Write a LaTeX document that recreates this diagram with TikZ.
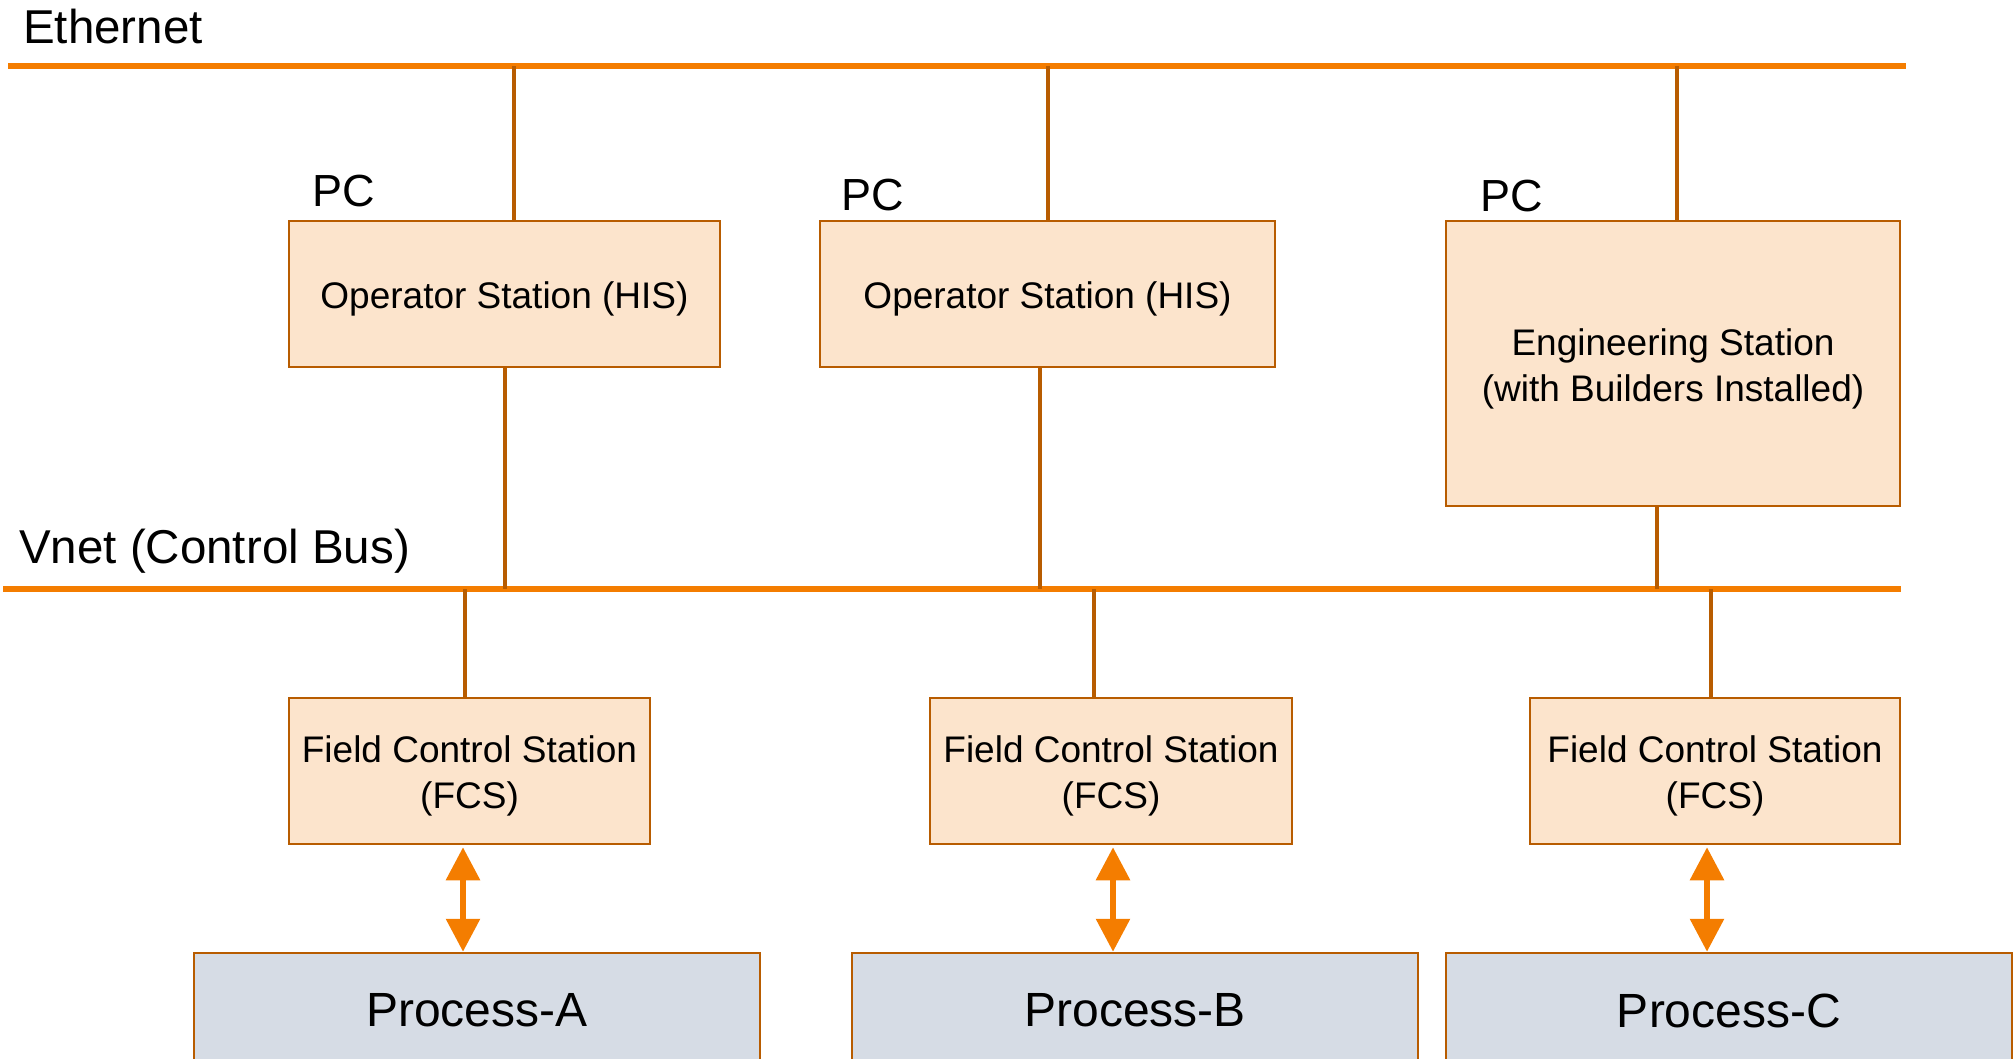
\documentclass[tikz,border=0pt]{standalone}
\usepackage{fontspec}
\setmainfont{Liberation Sans}
\usepackage{xcolor}
\usetikzlibrary{arrows.meta}

\definecolor{busorange}{RGB}{244,125,0}
\definecolor{linkbrown}{RGB}{184,92,0}
\definecolor{stationfill}{RGB}{252,228,204}
\definecolor{processfill}{RGB}{214,220,229}

\newcommand{\boxlines}[1]{\raisebox{0pt}[\dimexpr\height+11pt\relax]{\begin{tabular}{@{}c@{}}#1\end{tabular}}}

\begin{document}
\begin{tikzpicture}[x=1pt,y=-1pt,
  bus/.style={draw=busorange, line width=5.5pt},
  link/.style={draw=linkbrown, line width=4.5pt},
  station/.style={draw=linkbrown, fill=stationfill, line width=2.5pt,
    inner sep=0pt, font=\fontsize{37}{46}\selectfont},
  process/.style={draw=linkbrown, fill=processfill, line width=2.5pt, inner sep=0pt,
    font=\fontsize{48}{58}\selectfont},
  netname/.style={inner sep=0pt, anchor=base west, font=\fontsize{47.5}{56}\selectfont},
  pcname/.style={inner sep=0pt, anchor=base west, font=\fontsize{45}{54}\selectfont},
  flow/.style={draw=busorange, line width=6pt,
    {Triangle[width=33pt,length=33pt]}-{Triangle[width=33pt,length=33pt]}}]
\useasboundingbox (0,0) rectangle (2016,1059);
\clip (0,0) rectangle (2016,1059);

\coordinate (eth) at (8,66);
\coordinate (eth-end) at (1906,66);
\coordinate (vnet) at (3,589);
\coordinate (vnet-end) at (1901,589);
\draw[bus] (eth) -- (eth-end);
\draw[bus] (vnet) -- (vnet-end);

\node[netname] (ethname) at (23,44) {Ethernet};
\node[netname] (vnetname) at (19,563) {Vnet (Control Bus)};
\node[pcname] (pc1) at (312,207) {PC};
\node[pcname] (pc2) at (841,211) {PC};
\node[pcname] (pc3) at (1480,212) {PC};

\node[station, minimum width=431, minimum height=146] (os1) at (504.5,294) {\boxlines{Operator Station (HIS)}};
\node[station, minimum width=455, minimum height=146] (os2) at (1047.5,294) {\boxlines{Operator Station (HIS)}};
\node[station, minimum width=454, minimum height=285] (es) at (1673,363.5) {\boxlines{Engineering Station\\(with Builders Installed)}};

\node[station, minimum width=361, minimum height=146] (fcsA) at (469.5,771) {\boxlines{Field Control Station\\(FCS)}};
\node[station, minimum width=362, minimum height=146] (fcsB) at (1111,771) {\boxlines{Field Control Station\\(FCS)}};
\node[station, minimum width=370, minimum height=146] (fcsC) at (1715,771) {\boxlines{Field Control Station\\(FCS)}};

\node[process, minimum width=566, minimum height=115] (procA) at (477,1010.5) {Process-A};
\node[process, minimum width=566, minimum height=115] (procB) at (1135,1010.5) {Process-B};
\node[process, minimum width=566, minimum height=115] (procC) at (1729,1010.5) {Process-C};

\draw[link] ([xshift=9.5pt]os1.north) -- ([xshift=9.5pt]os1.north |- eth);
\draw[link] ([xshift=0.5pt]os2.north) -- ([xshift=0.5pt]os2.north |- eth);
\draw[link] ([xshift=4pt]es.north) -- ([xshift=4pt]es.north |- eth);

\draw[link] ([xshift=0.5pt]os1.south) -- ([xshift=0.5pt]os1.south |- vnet);
\draw[link] ([xshift=-7.5pt]os2.south) -- ([xshift=-7.5pt]os2.south |- vnet);
\draw[link] ([xshift=-16pt]es.south) -- ([xshift=-16pt]es.south |- vnet);

\draw[link] ([xshift=-4.5pt]fcsA.north) -- ([xshift=-4.5pt]fcsA.north |- vnet);
\draw[link] ([xshift=-17pt]fcsB.north) -- ([xshift=-17pt]fcsB.north |- vnet);
\draw[link] ([xshift=-4pt]fcsC.north) -- ([xshift=-4pt]fcsC.north |- vnet);

\draw[flow] ([xshift=-6.5pt,yshift=-2pt]fcsA.south) -- ([xshift=-6.5pt]fcsA.south |- procA.north);
\draw[flow] ([xshift=2pt,yshift=-2pt]fcsB.south) -- ([xshift=2pt]fcsB.south |- procB.north);
\draw[flow] ([xshift=-8pt,yshift=-2pt]fcsC.south) -- ([xshift=-8pt]fcsC.south |- procC.north);
\end{tikzpicture}
\end{document}
